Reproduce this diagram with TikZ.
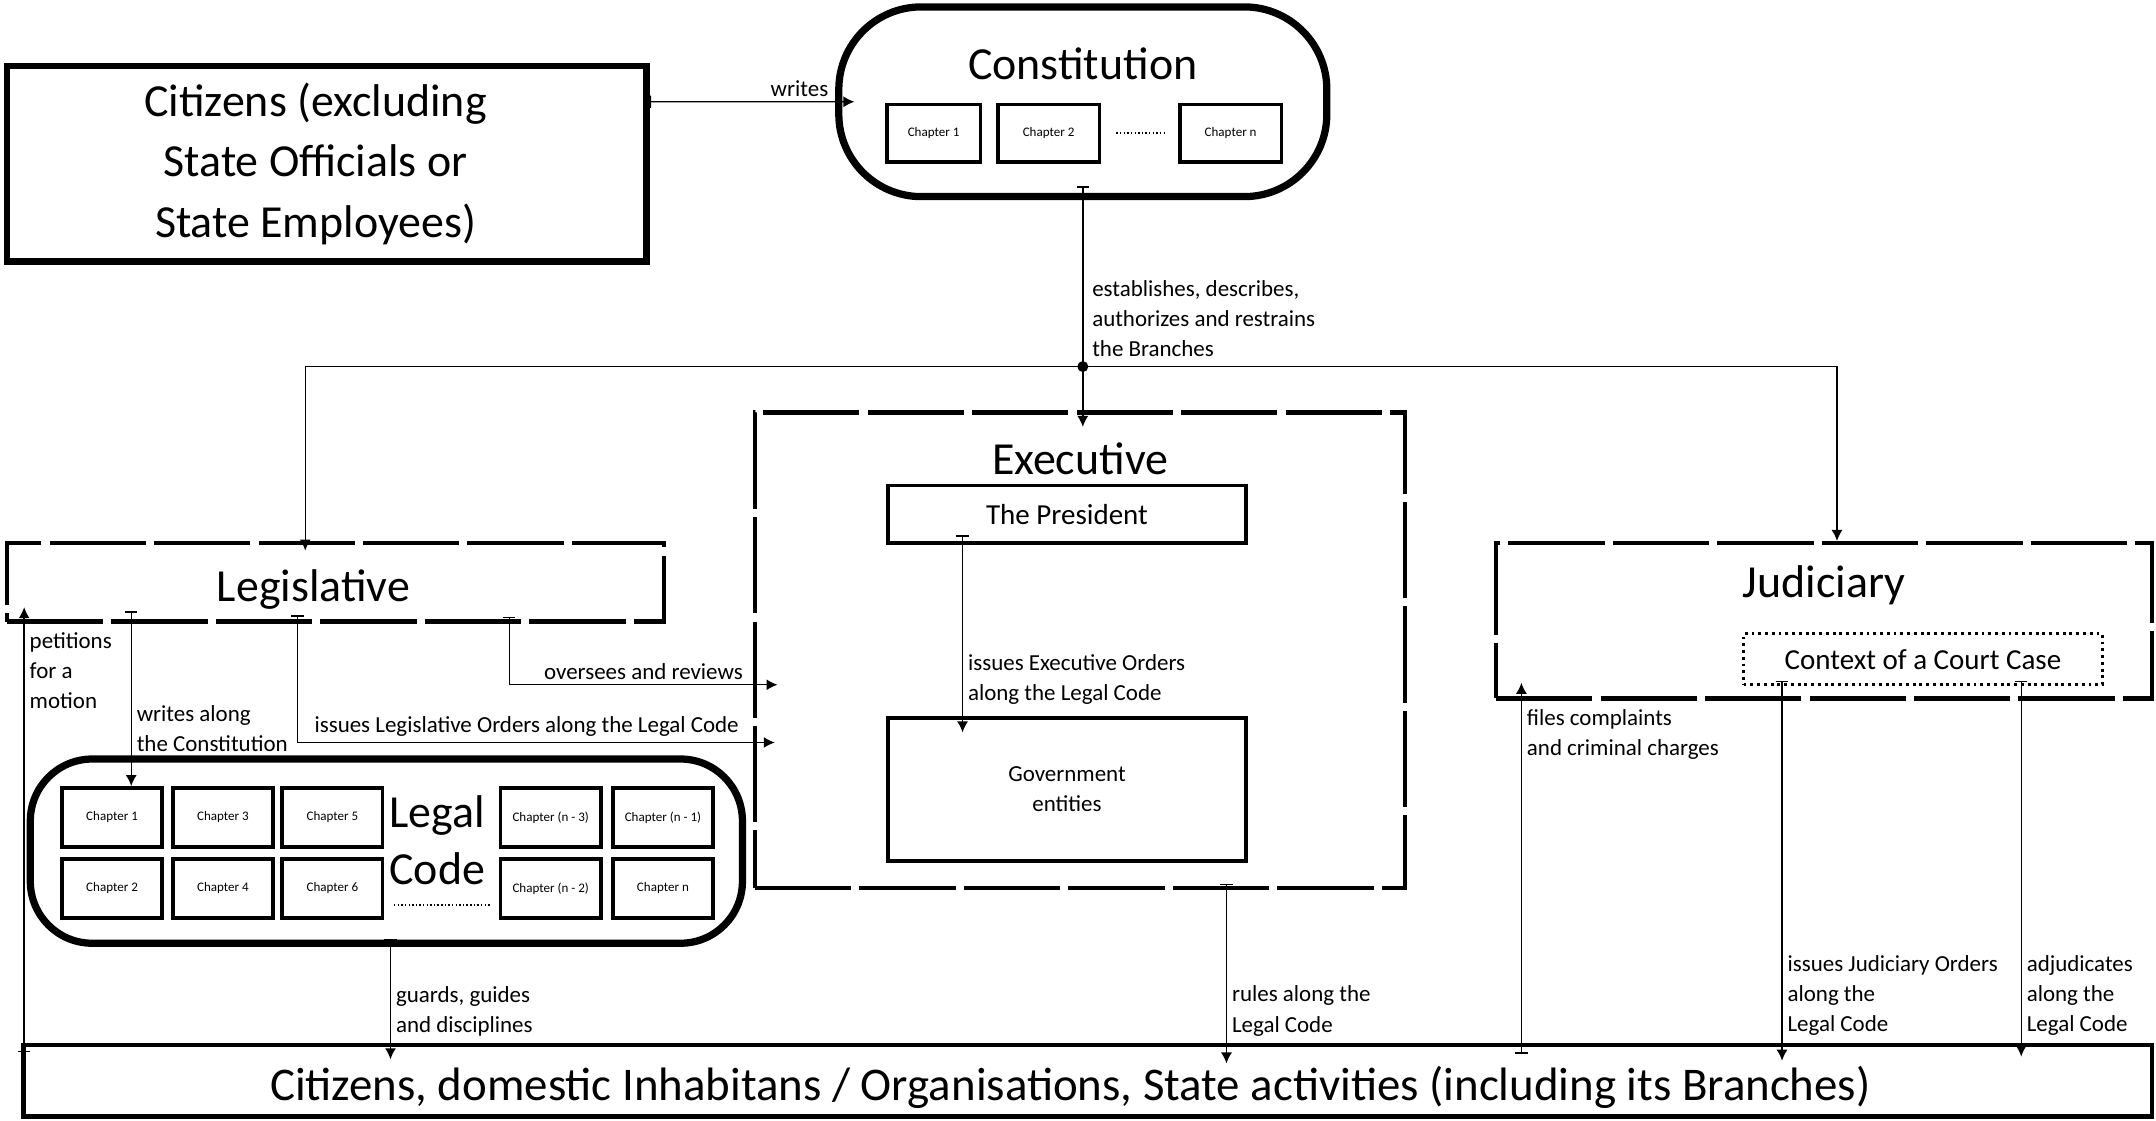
\documentclass[tikz,border=0pt]{standalone}
\usepackage{fontspec}
\setmainfont{Carlito}
\usetikzlibrary{arrows.meta,positioning}

\tikzset{
  box/.style={draw, line width=2.8pt, inner sep=0pt},
  branch/.style={draw, line width=1.8pt, dash pattern=on 1.4cm off 0.12cm, inner sep=0pt},
  pill/.style={draw, line width=3pt, inner sep=0pt},
  chap/.style={draw, line width=1.5pt, inner sep=0pt, font=\fontsize{5.4}{6}\selectfont},
  lchap/.style={chap, minimum width=1.46cm, minimum height=0.86cm},
  inbox/.style={draw, line width=1.5pt, inner sep=0pt, minimum width=5.2cm},
  title/.style={font=\fontsize{19}{25}\selectfont, align=center},
  lbl/.style={font=\fontsize{9.5}{12.5}\selectfont, align=left, inner sep=2pt},
  conn/.style={line width=0.6pt, {Bar[width=1.8mm]}-{Latex[length=1.6mm,width=1.6mm]}},
  arr/.style={line width=0.6pt, -{Latex[length=1.6mm,width=1.6mm]}},
  dots/.style={line width=0.8pt, dash pattern=on 0.6pt off 0.9pt}
}

\begin{document}
\begin{tikzpicture}[x=0.02cm, y=-0.02cm]
\useasboundingbox (0,0) rectangle (1568,815);

% citizens and constitution
\node[box, minimum width=9.3cm, minimum height=2.84cm] (citz) at (237.5,119) {};
\node[title] (citzT) at ([xshift=-0.16cm]citz.center)
  {Citizens (excluding\\State Officials or\\State Employees)};
\node[pill, rounded corners=1.2cm, minimum width=7.1cm, minimum height=2.76cm] (const) at (787.5,74) {};
\node[title] (constT) at ([yshift=-0.88cm]const.north) {Constitution};
\node[chap, minimum width=1.36cm, minimum height=0.84cm] (cc1) at (679,97) {Chapter 1};
\node[chap, minimum width=1.48cm, minimum height=0.84cm, right=0.2cm of cc1] (cc2) {Chapter 2};
\node[chap, minimum width=1.48cm, minimum height=0.84cm] (ccn) at (895,97) {Chapter n};
\draw[dots] ([xshift=0.22cm]cc2.east) -- ([xshift=-0.16cm]ccn.west);

% the branches
\node[branch, minimum width=9.56cm, minimum height=1.14cm] (legis) at (244,423.5) {};
\node[title] (legisT) at ([xshift=-0.32cm,yshift=-0.1cm]legis.center) {Legislative};
\node[branch, minimum width=9.46cm, minimum height=6.92cm] (exec) at (785.5,473) {};
\node[title] (execT) at ([yshift=-0.7cm]exec.north) {Executive};
\node[inbox, font=\fontsize{12}{14}\selectfont, minimum height=0.84cm] (pres) at (776,374) {The President};
\node[inbox, font=\fontsize{9.5}{12.5}\selectfont, align=center, minimum height=2.08cm] (gov) at (776,574) {Government\\entities};
\node[branch, minimum width=9.54cm, minimum height=2.26cm] (judi) at (1326.5,451.5) {};
\node[title] (judiT) at ([yshift=-0.64cm]judi.north) {Judiciary};
\node[draw, line width=1.2pt, dash pattern=on 1.2pt off 1.6pt, inner sep=0pt, font=\fontsize{12}{14}\selectfont,
  minimum width=5.22cm, minimum height=0.74cm] (court) at (1398.5,479.5) {Context of a Court Case};

% legal code
\node[pill, rounded corners=0.9cm, minimum width=10.36cm, minimum height=2.68cm] (legal) at (281,619) {};
\node[title, font=\fontsize{19}{23.8}\selectfont] (legalT) at (318,611) {Legal\\Code};
\node[lchap] (ch1) at (81.5,594.5) {Chapter 1};
\node[lchap, below=0.12cm of ch1] (ch2) {Chapter 2};
\node[lchap, right=0.1cm of ch1] (ch3) {Chapter 3};
\node[lchap, below=0.12cm of ch3] (ch4) {Chapter 4};
\node[lchap, right=0.08cm of ch3] (ch5) {Chapter 5};
\node[lchap, below=0.12cm of ch5] (ch6) {Chapter 6};
\node[lchap] (chm3) at (400.5,594.5) {Chapter (n - 3)};
\node[lchap, right=0.12cm of chm3] (chm1) {Chapter (n - 1)};
\node[lchap, below=0.12cm of chm3] (chm2) {Chapter (n - 2)};
\node[lchap, below=0.12cm of chm1] (chn) {Chapter n};
\draw[dots] ([xshift=0.14cm,yshift=-0.24cm]ch6.east) -- ([xshift=-0.12cm,yshift=-0.24cm]chm2.west);

% everybody else
\node[draw, line width=1.8pt, minimum width=30.96cm, minimum height=1.04cm] (bot) at (791,786) {};
\node[font=\fontsize{19.4}{22}\selectfont, inner sep=0pt] (botT) at ([xshift=-0.25cm,yshift=-0.1cm]bot.center)
  {Citizens, domestic Inhabitans / Organisations, State activities (including its Branches)};

% connectors
\draw[conn] ([yshift=0.9cm]citz.east) -- ([xshift=0.28cm]const.west)
  node[lbl, anchor=south east, pos=1, xshift=-0.3cm] {writes};

\coordinate[below=2.42cm of const.south] (jn);
\draw[conn, shorten >=-0.24cm] ([yshift=0.2cm]const.south) -- (const.south |- exec.north);
\draw[arr, shorten >=-0.14cm] (jn) -| ([xshift=-0.44cm]legis.north);
\draw[arr] (jn) -| ([xshift=0.19cm]judi.north);
\fill (jn) circle (0.08cm);
\node[lbl, anchor=south west] (estL) at ([xshift=0.06cm,yshift=0.06cm]jn)
  {establishes, describes,\\authorizes and restrains\\the Branches};

\coordinate (pt) at ([xshift=0.04cm,yshift=-0.14cm]bot.north west);
\draw[conn, shorten >=-0.24cm] (pt) -- (pt |- legis.south)
  node[lbl, right, pos=0.89] {petitions\\for a\\motion};
\coordinate (wa) at ([xshift=1.84cm,yshift=0.18cm]legis.south west);
\draw[conn] (wa) -- (wa |- ch1.north)
  node[lbl, right, pos=0.67] {writes along\\the Constitution};
\coordinate (il) at ([xshift=4.26cm,yshift=0.12cm]legis.south west);
\draw[conn] (il) |- ([xshift=0.32cm,yshift=-1.34cm]exec.west)
  node[lbl, above, pos=0.74] {issues Legislative Orders along the Legal Code};
\coordinate (ov) at ([xshift=7.34cm,yshift=0.1cm]legis.south west);
\draw[conn] (ov) |- ([xshift=0.36cm,yshift=-0.5cm]exec.west)
  node[lbl, above, pos=0.75] {oversees and reviews};

\coordinate (eo) at ([xshift=-1.52cm,yshift=0.14cm]pres.south);
\draw[conn, shorten >=-0.24cm] (eo) -- (eo |- gov.north)
  node[lbl, right, pos=0.8] {issues Executive Orders\\along the Legal Code};
\coordinate (ru) at ([xshift=2.13cm,yshift=0.1cm]exec.south);
\draw[conn, shorten >=-0.3cm] (ru) -- (ru |- bot.north)
  node[lbl, right, pos=0.8] {rules along the\\Legal Code};

\coordinate (gd) at ([xshift=0.06cm,yshift=0.12cm]legal.south);
\draw[conn, shorten >=-0.24cm] (gd) -- (gd |- bot.north)
  node[lbl, right, pos=0.7] {guards, guides\\and disciplines};

\coordinate (fc) at ([xshift=0.4cm]judi.south west);
\draw[conn, shorten <=-0.16cm, shorten >=-0.26cm] (fc |- bot.north) -- (fc)
  node[lbl, right, pos=0.9] {files complaints\\and criminal charges};
\coordinate (jo) at ([xshift=-2.05cm,yshift=0.08cm]court.south);
\draw[conn, shorten >=-0.26cm] (jo) -- (jo |- bot.north)
  node[lbl, right, pos=0.87] {issues Judiciary Orders\\along the\\Legal Code};
\coordinate (ad) at ([xshift=1.43cm,yshift=0.08cm]court.south);
\draw[conn, shorten >=-0.2cm] (ad) -- (ad |- bot.north)
  node[lbl, right, pos=0.87] {adjudicates\\along the\\Legal Code};
\end{tikzpicture}
\end{document}
